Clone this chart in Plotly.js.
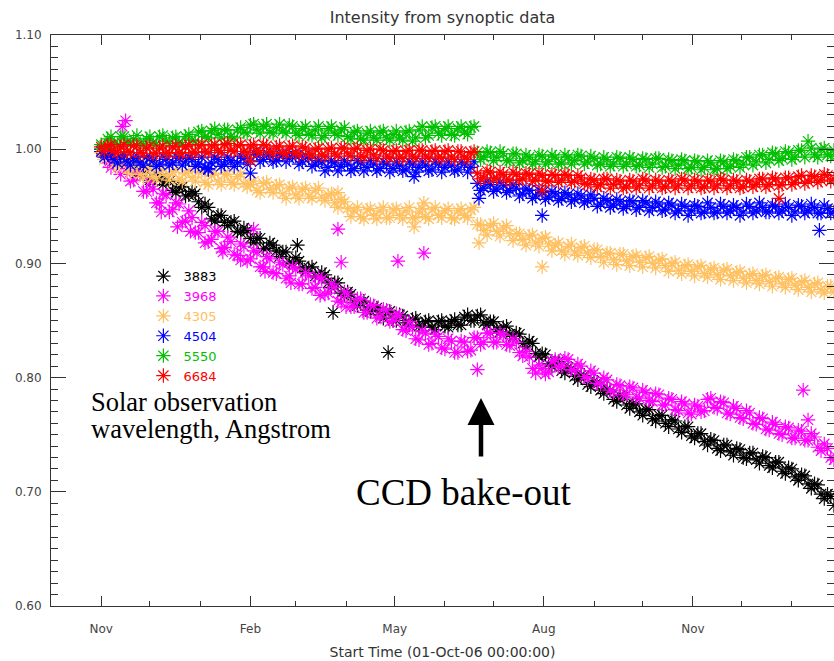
<!DOCTYPE html>
<html>
<head>
<meta charset="utf-8">
<script src="https://cdn.plot.ly/plotly-3.0.1.min.js"></script>
<style>html,body{margin:0;padding:0;background:#fff;}#chart{width:834px;height:661px;}</style>
</head>
<body>
<div id="chart"></div>
<script>
// Days since 01-Oct-2006 (start time) of the sampled observations (two interleaved sample sets)
const DAYS = [31,35,39,43,47,51,55,59,63,67,71,75,79,83,87,91,95,99,103,107,111,115,119,123,127,131,135,139,143,147,151,155,159,163,167,171,175,179,183,187,191,195,199,203,207,211,215,219,223,227,231,235,239,243,247,251,255,259,263,267,271,275,279,283,287,291,295,299,303,307,311,315,319,323,327,331,335,339,343,347,351,355,359,363,367,371,375,379,383,387,391,395,399,403,407,411,415,419,423,427,431,435,439,443,447,451,455,459,463,467,471,475,479,483];
const DAYS_B = [33,37,41,45,49,53,57,61,65,69,73,77,81,85,89,93,97,101,105,109,113,117,121,125,129,133,137,141,145,149,153,157,161,165,169,173,177,181,185,189,193,197,201,205,209,213,217,221,225,229,233,237,241,245,249,253,257,261,265,269,273,277,281,285,289,293,297,301,305,309,313,317,321,325,329,333,337,341,345,349,353,357,361,365,369,373,377,381,385,389,393,397,401,405,409,413,417,421,425,429,433,437,441,445,449,453,457,461,465,469,473,477,481];

const SERIES_NAMES = ['3883','3968','4305','4504','5550','6684'];
const SERIES_COLORS = ['#000000','#ff00ff','#ffc060','#0000ff','#00c000','#ff0000'];

const I_3883 = [1.000,0.999,0.990,0.990,0.983,0.987,0.980,0.982,0.972,0.974,0.973,0.964,0.967,0.959,0.963,0.954,0.952,0.939,0.942,0.936,0.936,0.928,0.931,0.922,0.922,0.913,0.918,0.911,0.910,0.901,0.905,0.896,0.896,0.889,0.892,0.883,0.883,0.874,0.875,0.866,0.866,0.859,0.862,0.855,0.857,0.850,0.855,0.848,0.851,0.845,0.849,0.844,0.849,0.845,0.849,0.846,0.853,0.850,0.854,0.848,0.849,0.842,0.844,0.838,0.839,0.830,0.832,0.821,0.821,0.812,0.814,0.806,0.809,0.801,0.802,0.794,0.797,0.789,0.790,0.781,0.784,0.776,0.777,0.770,0.772,0.764,0.767,0.760,0.763,0.755,0.757,0.749,0.751,0.744,0.746,0.738,0.741,0.735,0.738,0.730,0.734,0.728,0.731,0.723,0.726,0.718,0.721,0.713,0.715,0.707,0.707,0.698,0.698,0.688];
const I_3883_B = [0.995,0.998,0.987,0.991,0.985,0.979,0.983,0.973,0.978,0.969,0.972,0.962,0.967,0.960,0.961,0.949,0.949,0.937,0.942,0.933,0.937,0.927,0.929,0.918,0.922,0.913,0.916,0.906,0.910,0.900,0.902,0.893,0.897,0.888,0.890,0.879,0.883,0.872,0.873,0.863,0.867,0.858,0.861,0.852,0.858,0.850,0.854,0.846,0.852,0.845,0.850,0.842,0.850,0.844,0.851,0.846,0.855,0.850,0.855,0.846,0.849,0.840,0.845,0.836,0.838,0.827,0.830,0.818,0.820,0.810,0.814,0.804,0.808,0.798,0.802,0.792,0.796,0.786,0.789,0.779,0.783,0.773,0.777,0.767,0.772,0.762,0.767,0.757,0.762,0.752,0.757,0.747,0.751,0.741,0.745,0.736,0.741,0.732,0.737,0.729,0.734,0.725,0.730,0.721,0.726,0.716,0.720,0.710,0.714,0.703,0.706,0.694,0.696];

const I_3968 = [0.998,0.988,0.992,0.978,0.983,0.973,0.978,0.963,0.965,0.953,0.960,0.947,0.952,0.937,0.940,0.927,0.933,0.921,0.928,0.914,0.919,0.907,0.915,0.904,0.910,0.897,0.904,0.891,0.899,0.889,0.895,0.882,0.889,0.879,0.886,0.874,0.879,0.866,0.873,0.862,0.869,0.857,0.863,0.853,0.859,0.850,0.854,0.841,0.844,0.833,0.839,0.830,0.836,0.825,0.832,0.822,0.831,0.824,0.835,0.831,0.839,0.831,0.837,0.828,0.831,0.819,0.818,0.804,0.808,0.805,0.816,0.810,0.816,0.806,0.810,0.799,0.804,0.794,0.798,0.787,0.793,0.785,0.791,0.782,0.787,0.779,0.785,0.776,0.781,0.771,0.777,0.768,0.775,0.771,0.782,0.773,0.778,0.768,0.773,0.764,0.769,0.759,0.764,0.754,0.759,0.750,0.756,0.747,0.753,0.745,0.748,0.736,0.738,0.728];
const I_3968_B = [1.001,0.984,0.991,0.985,0.972,0.981,0.963,0.971,0.953,0.961,0.945,0.953,0.936,0.946,0.927,0.936,0.919,0.928,0.913,0.923,0.908,0.917,0.902,0.911,0.897,0.906,0.892,0.901,0.887,0.897,0.882,0.892,0.878,0.888,0.873,0.882,0.867,0.875,0.862,0.869,0.857,0.864,0.852,0.860,0.849,0.856,0.842,0.849,0.834,0.841,0.829,0.838,0.826,0.834,0.822,0.832,0.823,0.835,0.829,0.839,0.831,0.839,0.829,0.834,0.822,0.823,0.808,0.811,0.803,0.814,0.809,0.817,0.807,0.812,0.801,0.806,0.795,0.800,0.789,0.794,0.785,0.792,0.783,0.789,0.780,0.786,0.776,0.782,0.772,0.779,0.769,0.776,0.770,0.781,0.774,0.779,0.769,0.775,0.765,0.771,0.760,0.765,0.755,0.761,0.751,0.757,0.747,0.754,0.745,0.751,0.739,0.742,0.730];

const I_4305 = [0.997,0.995,0.987,0.990,0.982,0.986,0.978,0.983,0.976,0.981,0.977,0.980,0.974,0.979,0.975,0.980,0.971,0.977,0.972,0.978,0.971,0.976,0.970,0.969,0.964,0.970,0.965,0.968,0.961,0.966,0.960,0.965,0.959,0.964,0.958,0.960,0.953,0.956,0.948,0.946,0.941,0.947,0.942,0.946,0.940,0.947,0.942,0.946,0.940,0.945,0.941,0.947,0.942,0.946,0.940,0.946,0.942,0.947,0.934,0.929,0.933,0.928,0.931,0.926,0.926,0.921,0.924,0.918,0.922,0.917,0.916,0.911,0.915,0.910,0.914,0.909,0.912,0.906,0.909,0.903,0.908,0.902,0.906,0.901,0.905,0.900,0.903,0.898,0.900,0.894,0.898,0.893,0.897,0.891,0.895,0.890,0.894,0.889,0.892,0.887,0.890,0.885,0.889,0.884,0.887,0.882,0.886,0.881,0.884,0.879,0.882,0.877,0.880,0.875];
const I_4305_B = [0.991,0.996,0.984,0.990,0.979,0.986,0.975,0.983,0.974,0.983,0.973,0.982,0.972,0.981,0.972,0.980,0.969,0.979,0.969,0.978,0.969,0.978,0.967,0.972,0.962,0.971,0.962,0.969,0.957,0.967,0.957,0.966,0.957,0.966,0.955,0.961,0.949,0.954,0.941,0.949,0.939,0.948,0.939,0.949,0.940,0.948,0.939,0.949,0.940,0.948,0.939,0.949,0.940,0.948,0.939,0.948,0.940,0.949,0.934,0.925,0.935,0.924,0.933,0.920,0.926,0.916,0.925,0.915,0.923,0.911,0.918,0.908,0.917,0.907,0.915,0.905,0.912,0.901,0.909,0.899,0.908,0.898,0.907,0.897,0.906,0.896,0.904,0.893,0.901,0.891,0.899,0.889,0.898,0.888,0.896,0.886,0.895,0.885,0.893,0.883,0.891,0.882,0.890,0.880,0.888,0.879,0.887,0.877,0.885,0.875,0.883,0.874,0.880];

const I_4504 = [0.998,0.995,0.991,0.993,0.989,0.992,0.988,0.993,0.990,0.987,0.991,0.988,0.992,0.989,0.991,0.987,0.984,0.988,0.991,0.987,0.990,0.988,0.992,0.990,0.995,0.991,0.994,0.990,0.995,0.992,0.994,0.989,0.992,0.987,0.989,0.984,0.988,0.985,0.987,0.983,0.988,0.984,0.987,0.983,0.987,0.983,0.986,0.982,0.987,0.984,0.986,0.982,0.987,0.984,0.986,0.982,0.987,0.984,0.970,0.966,0.969,0.965,0.968,0.964,0.966,0.961,0.964,0.959,0.962,0.958,0.961,0.957,0.960,0.956,0.959,0.955,0.957,0.952,0.955,0.951,0.954,0.950,0.954,0.949,0.953,0.949,0.952,0.947,0.951,0.946,0.950,0.946,0.950,0.945,0.949,0.945,0.950,0.946,0.949,0.945,0.950,0.946,0.949,0.945,0.950,0.946,0.949,0.945,0.950,0.946,0.949,0.944,0.948,0.945];
const I_4504_B = [0.993,0.996,0.988,0.995,0.986,0.994,0.986,0.993,0.985,0.994,0.986,0.994,0.986,0.993,0.985,0.993,0.983,0.993,0.985,0.993,0.985,0.994,0.987,0.997,0.989,0.997,0.989,0.996,0.989,0.996,0.987,0.995,0.985,0.990,0.981,0.990,0.981,0.990,0.981,0.990,0.981,0.990,0.981,0.989,0.980,0.989,0.981,0.989,0.980,0.989,0.981,0.989,0.980,0.989,0.981,0.989,0.980,0.989,0.964,0.972,0.963,0.971,0.962,0.969,0.959,0.965,0.957,0.964,0.956,0.963,0.955,0.962,0.954,0.961,0.953,0.960,0.950,0.957,0.949,0.956,0.948,0.955,0.947,0.955,0.946,0.954,0.946,0.953,0.944,0.952,0.942,0.951,0.944,0.953,0.944,0.952,0.944,0.951,0.942,0.952,0.944,0.953,0.945,0.951,0.944,0.952,0.942,0.951,0.944,0.952,0.944,0.951,0.944];

const I_5550 = [1.004,1.009,1.005,1.011,1.006,1.009,1.005,1.009,1.006,1.011,1.007,1.010,1.006,1.011,1.008,1.015,1.011,1.016,1.013,1.017,1.011,1.017,1.015,1.021,1.017,1.020,1.015,1.019,1.016,1.021,1.014,1.018,1.013,1.017,1.010,1.018,1.014,1.017,1.011,1.015,1.009,1.014,1.010,1.015,1.010,1.013,1.010,1.015,1.007,1.017,1.010,1.019,1.014,1.018,1.013,1.018,1.015,1.019,0.997,0.993,0.997,0.993,0.996,0.990,0.996,0.990,0.993,0.989,0.994,0.989,0.993,0.988,0.993,0.990,0.994,0.989,0.992,0.987,0.991,0.987,0.992,0.987,0.991,0.986,0.991,0.987,0.992,0.985,0.990,0.986,0.990,0.984,0.989,0.984,0.988,0.983,0.989,0.985,0.990,0.987,0.993,0.989,0.995,0.991,0.996,0.992,0.997,0.993,0.999,1.007,0.995,1.000,0.995,0.999];
const I_5550_B = [1.003,1.011,1.004,1.011,1.004,1.012,1.004,1.011,1.004,1.012,1.005,1.011,1.004,1.013,1.007,1.016,1.010,1.018,1.010,1.017,1.010,1.019,1.014,1.022,1.014,1.022,1.014,1.022,1.014,1.020,1.012,1.020,1.012,1.020,1.012,1.020,1.012,1.019,1.009,1.016,1.008,1.016,1.008,1.016,1.008,1.016,1.008,1.016,1.010,1.020,1.012,1.020,1.012,1.020,1.012,1.020,1.013,1.020,0.991,0.998,0.990,0.998,0.990,0.996,0.988,0.995,0.987,0.995,0.987,0.995,0.987,0.995,0.987,0.995,0.987,0.994,0.986,0.993,0.985,0.993,0.985,0.993,0.985,0.992,0.984,0.992,0.984,0.991,0.983,0.991,0.983,0.990,0.982,0.990,0.982,0.990,0.983,0.991,0.984,0.993,0.986,0.995,0.988,0.997,0.990,0.998,0.991,0.999,0.993,1.001,0.993,1.001,0.994];

const I_6684 = [1.002,1.003,0.999,1.002,0.998,1.003,0.997,1.001,0.996,1.001,0.997,1.002,0.997,1.002,0.997,1.003,0.998,1.003,0.999,1.004,0.999,1.003,0.998,1.003,0.999,1.004,0.998,1.002,0.997,1.002,0.997,1.002,0.996,1.000,0.995,1.000,0.996,1.001,0.996,1.000,0.994,0.999,0.995,1.000,0.994,0.998,0.993,0.998,0.994,0.999,0.994,0.998,0.993,0.998,0.993,0.998,0.993,0.997,0.979,0.975,0.980,0.975,0.978,0.973,0.978,0.974,0.978,0.973,0.977,0.972,0.977,0.973,0.977,0.972,0.975,0.969,0.973,0.969,0.974,0.969,0.972,0.967,0.972,0.968,0.973,0.968,0.972,0.967,0.972,0.968,0.973,0.968,0.972,0.967,0.972,0.968,0.973,0.968,0.972,0.967,0.972,0.969,0.974,0.969,0.974,0.969,0.975,0.971,0.977,0.972,0.976,0.973,0.977,0.974];
const I_6684_B = [0.998,1.004,0.997,1.004,0.997,1.003,0.996,1.003,0.996,1.003,0.996,1.003,0.996,1.004,0.997,1.004,0.997,1.004,0.997,1.005,0.998,1.004,0.997,1.004,0.997,1.003,0.996,1.003,0.996,1.003,0.995,1.001,0.994,1.001,0.994,1.001,0.994,1.001,0.994,1.001,0.993,1.000,0.992,0.999,0.992,0.999,0.992,0.999,0.992,0.999,0.992,0.999,0.992,0.999,0.991,0.998,0.991,0.998,0.974,0.981,0.974,0.980,0.973,0.980,0.973,0.979,0.972,0.979,0.972,0.978,0.971,0.978,0.971,0.977,0.970,0.974,0.967,0.974,0.966,0.973,0.966,0.973,0.966,0.974,0.966,0.973,0.966,0.973,0.966,0.974,0.966,0.973,0.966,0.973,0.966,0.974,0.966,0.973,0.966,0.973,0.967,0.974,0.967,0.975,0.968,0.975,0.969,0.976,0.970,0.977,0.971,0.978,0.972];

// Isolated points lying off the main bands
const OUT_SERIES = [0,0,0, 1,1,1,1,1,1,1,1,1,1, 1,1,1,1,1,1,1,1,1,1, 2,2,2,2,2, 3,3,3,3,3,3, 5,5,5];
const OUT_DAYS   = [152,174,208, 44,46,125,177,179,214,230,263,464,467, 68,78,86,95,106,117,132,148,166,182, 177,224,230,264,303, 97,123,224,264,303,474, 123,303,449];
const OUT_VALUES = [0.916,0.857,0.822, 1.020,1.025,0.930,0.930,0.901,0.902,0.909,0.807,0.789,0.763, 0.945,0.932,0.928,0.918,0.910,0.903,0.893,0.883,0.872,0.862, 0.962,0.932,0.953,0.918,0.897, 0.982,0.979,0.976,0.957,0.942,0.929, 0.990,0.964,0.957];

const SERIES_VALUES = [I_3883, I_3968, I_4305, I_4504, I_5550, I_6684];
const SERIES_VALUES_B = [I_3883_B, I_3968_B, I_4305_B, I_4504_B, I_5550_B, I_6684_B];

function dayToDate(d) {
  return new Date(Date.UTC(2006, 9, 1) + d * 86400000).toISOString().slice(0, 10);
}

const traces = SERIES_NAMES.map((name, s) => {
  const xs = DAYS.map(dayToDate).concat(DAYS_B.map(dayToDate));
  const ys = SERIES_VALUES[s].concat(SERIES_VALUES_B[s]);
  OUT_SERIES.forEach((o, i) => { if (o === s) { xs.push(dayToDate(OUT_DAYS[i])); ys.push(OUT_VALUES[i]); } });
  return {
    type: 'scatter', mode: 'markers', x: xs, y: ys,
    name: '<span style="color:' + SERIES_COLORS[s] + '">' + name + '</span>',
    marker: { symbol: 'asterisk-open', size: 12, color: SERIES_COLORS[s], line: { color: SERIES_COLORS[s], width: 1.2 } },
    hoverinfo: 'x+y'
  };
});

const axisColor = '#333333';
const tickFont = { family: 'DejaVu Sans', size: 12, color: '#444444' };

const layout = {
  width: 834, height: 661,
  margin: { l: 51, r: 0, t: 35, b: 55, pad: 0 },
  paper_bgcolor: '#ffffff', plot_bgcolor: '#ffffff',
  showlegend: true,
  title: { text: 'Intensity from synoptic data', font: { family: 'DejaVu Sans', size: 16, color: '#333333' },
           x: 0.5, xref: 'paper', xanchor: 'center', y: 1 - 17/661, yref: 'container', yanchor: 'middle' },
  legend: { x: 0.118, y: 0.604, xanchor: 'left', yanchor: 'top', bgcolor: 'rgba(0,0,0,0)',
            font: { family: 'DejaVu Sans', size: 13, color: '#000' }, tracegroupgap: 0, itemwidth: 30 },
  xaxis: {
    type: 'date', range: ['2006-10-01', '2008-01-27'],
    tick0: '2006-11-01', dtick: 'M3', tickformat: '%b',
    ticks: 'inside', ticklen: 10, tickwidth: 1, tickcolor: axisColor,
    showline: true, linecolor: axisColor, linewidth: 1, mirror: 'allticks',
    showgrid: false, zeroline: false, tickfont: tickFont, ticklabelstandoff: 12,
    minor: { dtick: 'M1', ticks: 'inside', ticklen: 5, tickcolor: axisColor, showgrid: false },
    title: { text: 'Start Time (01-Oct-06 00:00:00)', font: { family: 'DejaVu Sans', size: 14, color: '#333333' }, standoff: 11 }
  },
  yaxis: {
    range: [0.6, 1.1], dtick: 0.1, tick0: 0.6, tickformat: '.2f',
    ticks: 'inside', ticklen: 15, tickwidth: 1, tickcolor: axisColor,
    showline: true, linecolor: axisColor, linewidth: 1, mirror: 'allticks',
    showgrid: false, zeroline: false, tickfont: tickFont, ticklabelstandoff: 6,
    minor: { dtick: 0.01, ticks: 'inside', ticklen: 7, tickcolor: axisColor, showgrid: false }
  },
  annotations: [
    { xref: 'paper', yref: 'paper', x: (89-51)/783, y: (606-402)/571, xanchor: 'left', yanchor: 'middle',
      text: 'Solar observation', showarrow: false, font: { family: 'Liberation Serif', size: 26.5, color: '#000' } },
    { xref: 'paper', yref: 'paper', x: (89-51)/783, y: (606-429)/571, xanchor: 'left', yanchor: 'middle',
      text: 'wavelength, Angstrom', showarrow: false, font: { family: 'Liberation Serif', size: 26.5, color: '#000' } },
    { xref: 'paper', yref: 'paper', x: (354-51)/783, y: (606-492)/571, xanchor: 'left', yanchor: 'middle',
      text: 'CCD bake-out', showarrow: false, font: { family: 'Liberation Serif', size: 37, color: '#000' } },
    { xref: 'paper', yref: 'paper', x: (481-51)/783, y: (606-398)/571, text: '', showarrow: true,
      ax: 0, ay: 60, arrowhead: 2, arrowsize: 1.2, arrowwidth: 4.5, arrowcolor: '#000', standoff: 0 }
  ]
};

Plotly.newPlot('chart', traces, layout, { displayModeBar: false, staticPlot: true });
</script>
</body>
</html>
